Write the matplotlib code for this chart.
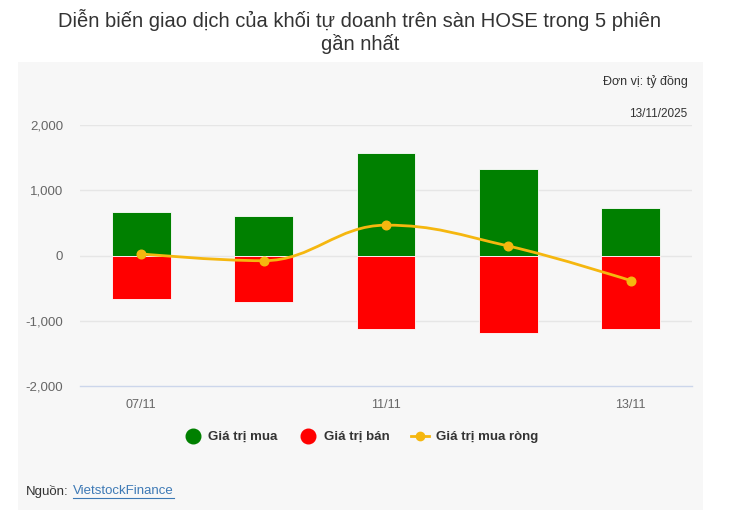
import numpy as np
import matplotlib.pyplot as plt
from matplotlib.path import Path
from matplotlib.patches import PathPatch, Rectangle
from matplotlib.lines import Line2D

plt.rcParams["font.family"] = ["Liberation Sans", "DejaVu Sans"]

# data (ty dong)
days = ["07/11", "10/11", "11/11", "12/11", "13/11"]
buy = [665, 605, 1565, 1325, 725]
sell = [-665, -715, -1125, -1195, -1125]
net = [25, -80, 465, 145, -385]
shown_ticks = ["07/11", "11/11", "13/11"]

green = "#008000"
red = "#ff0000"
yellow = "#f5b70f"

fig = plt.figure(figsize=(7.5, 5.15), dpi=100)
fig.patch.set_facecolor("white")

# light panel behind the chart
fig.patches.append(Rectangle((18 / 750, 1 - 510 / 515), 685 / 750, 448 / 515,
                             transform=fig.transFigure, facecolor="#f7f7f7",
                             edgecolor="none", zorder=-5))

ax = fig.add_axes([80 / 750, 1 - 386 / 515, 612 / 750, 261 / 515])
ax.set_facecolor("none")

x = np.arange(len(days))
ax.bar(x, buy, width=0.48, color=green, edgecolor="white", linewidth=0.6, zorder=2)
ax.bar(x, sell, width=0.48, color=red, edgecolor="white", linewidth=0.6, zorder=2)


# highcharts style spline for the net line
def spline_path(xs, ys, smooth=1.5):
    n = len(xs)
    left = [(xs[i], ys[i]) for i in range(n)]
    right = [(xs[i], ys[i]) for i in range(n)]
    d = smooth + 1
    for i in range(1, n - 1):
        lx = (smooth * xs[i] + xs[i - 1]) / d
        ly = (smooth * ys[i] + ys[i - 1]) / d
        rx = (smooth * xs[i] + xs[i + 1]) / d
        ry = (smooth * ys[i] + ys[i + 1]) / d
        corr = (ry - ly) * (rx - xs[i]) / (rx - lx) + ys[i] - ry
        ly += corr
        ry += corr
        if ly > ys[i - 1] and ly > ys[i]:
            ly = max(ys[i - 1], ys[i]); ry = 2 * ys[i] - ly
        elif ly < ys[i - 1] and ly < ys[i]:
            ly = min(ys[i - 1], ys[i]); ry = 2 * ys[i] - ly
        if ry > ys[i + 1] and ry > ys[i]:
            ry = max(ys[i + 1], ys[i]); ly = 2 * ys[i] - ry
        elif ry < ys[i + 1] and ry < ys[i]:
            ry = min(ys[i + 1], ys[i]); ly = 2 * ys[i] - ry
        left[i] = (lx, ly)
        right[i] = (rx, ry)
    verts = [(xs[0], ys[0])]
    codes = [Path.MOVETO]
    for i in range(1, n):
        verts += [right[i - 1], left[i], (xs[i], ys[i])]
        codes += [Path.CURVE4] * 3
    return Path(verts, codes)


ax.add_patch(PathPatch(spline_path(list(x), net), facecolor="none",
                       edgecolor=yellow, linewidth=2, zorder=3))
ax.plot(x, net, linestyle="none", marker="o", markersize=6.2, color=yellow,
        zorder=4, clip_on=False)

ax.set_xlim(-0.5, 4.5)
ax.set_ylim(-2000, 2000)
ax.set_yticks([-2000, -1000, 0, 1000, 2000])
ax.set_yticklabels(["-2,000", "-1,000", "0", "1,000", "2,000"])
ax.set_xticks([days.index(d) for d in shown_ticks])
ax.set_xticklabels(shown_ticks)
ax.tick_params(axis="both", length=0, colors="#666666")
ax.tick_params(axis="y", pad=12, labelsize=9.5)
ax.tick_params(axis="x", pad=9, labelsize=9)
for t in [-1000, 0, 1000, 2000]:
    ax.axhline(t, color="#e6e6e6", linewidth=1, zorder=1)
for s in ["top", "right", "left"]:
    ax.spines[s].set_visible(False)
ax.spines["bottom"].set_color("#ccd6eb")
ax.spines["bottom"].set_linewidth(1)

# titles and notes
fig.text(0.48, 1 - 20 / 515, "Diễn biến giao dịch của khối tự doanh trên sàn HOSE trong 5 phiên",
         ha="center", va="center", fontsize=14.5, color="#333333")
fig.text(0.48, 1 - 44 / 515, "gần nhất", ha="center", va="center", fontsize=14.5, color="#333333")
fig.text(688 / 750, 1 - 82 / 515, "Đơn vị: tỷ đồng", ha="right", va="center",
         fontsize=9, color="#333333")
fig.text(687 / 750, 1 - 114 / 515, "13/11/2025", ha="right", va="center",
         fontsize=8.5, color="#333333")

# legend
handles = [
    Line2D([], [], linestyle="none", marker="o", markersize=10.5, color=green),
    Line2D([], [], linestyle="none", marker="o", markersize=10.5, color=red),
    Line2D([], [], color=yellow, linewidth=2, marker="o", markersize=6),
]
leg = fig.legend(handles, ["Giá trị mua", "Giá trị bán", "Giá trị mua ròng"],
                 loc="center", bbox_to_anchor=(0.481, 1 - 437 / 515), ncol=3,
                 frameon=False, prop={"weight": "bold", "size": 9.5},
                 handlelength=1.4, handletextpad=0.5, columnspacing=1.6)
for t in leg.get_texts():
    t.set_color("#333333")

fig.text(26 / 750, 1 - 491 / 515, "Nguồn:", ha="left", va="center", fontsize=9.5, color="#333333")
fig.text(73 / 750, 1 - 491 / 515, "VietstockFinance", ha="left", va="center",
         fontsize=9.5, color="#3d79b5")
fig.add_artist(Line2D([73 / 750, 174 / 750], [1 - 498 / 515, 1 - 498 / 515],
                      color="#3d79b5", linewidth=0.8, transform=fig.transFigure))

fig.savefig("out.png", dpi=100)
